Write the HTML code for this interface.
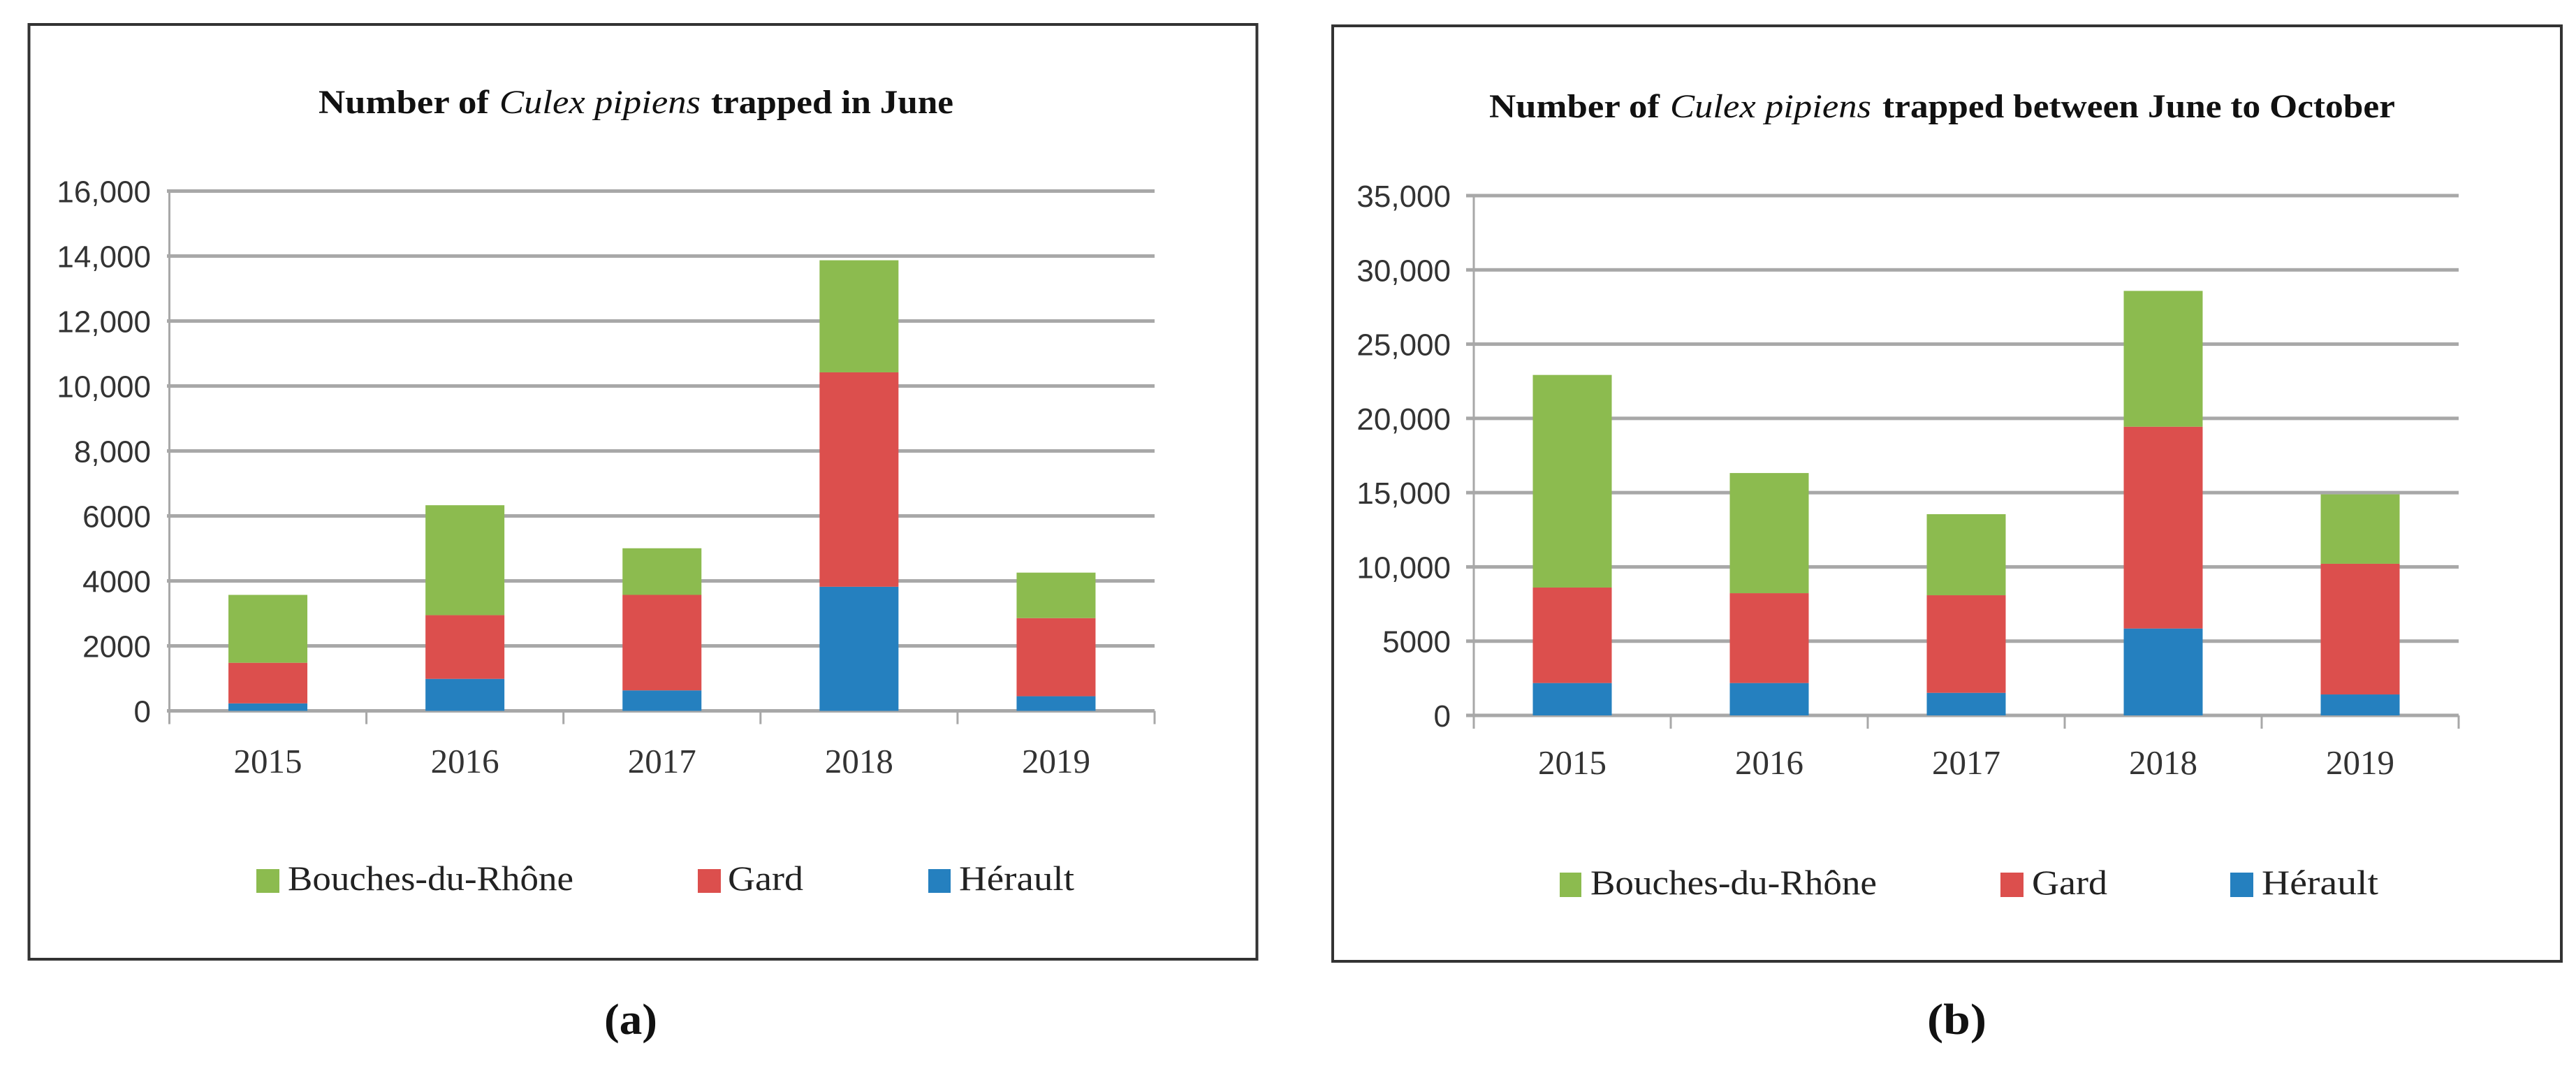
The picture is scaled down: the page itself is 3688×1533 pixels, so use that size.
<!DOCTYPE html>
<html lang="en">
<head>
<meta charset="utf-8">
<title>Number of Culex pipiens trapped</title>
<style>
html,body{margin:0;padding:0;background:#fff;}
svg{display:block;}
.title{font-family:"Liberation Serif",serif;font-size:48px;font-weight:bold;fill:#111;}
.legend{font-family:"Liberation Serif",serif;font-size:50px;fill:#222;}
.ylab{font-family:"Liberation Sans",sans-serif;font-size:44px;fill:#333;text-anchor:end;}
.xlab{font-family:"Liberation Serif",serif;font-size:49px;fill:#333;text-anchor:middle;}
.cap{font-family:"Liberation Serif",serif;font-size:62px;font-weight:bold;fill:#111;}
</style>
</head>
<body>
<svg id="fig" xmlns="http://www.w3.org/2000/svg" width="3688" height="1533" viewBox="0 0 3688 1533">
  <rect x="0" y="0" width="3688" height="1533" fill="#fff"/>

  <g id="panel-a">
    <rect x="41.5" y="35" width="1758" height="1338" fill="#fff" stroke="#333" stroke-width="4"/>
    <g>
      <text class="title" x="456" y="162" textLength="244" lengthAdjust="spacingAndGlyphs">Number of</text>
      <text class="title" x="715" y="162" textLength="288" lengthAdjust="spacingAndGlyphs" font-style="italic" style="font-weight:normal">Culex pipiens</text>
      <text class="title" x="1018" y="162" textLength="347" lengthAdjust="spacingAndGlyphs">trapped in June</text>
    </g>
    <g id="plot-a"></g>
    <g>
      <rect x="367" y="1244" width="33" height="34" fill="#8cbb4f"/>
      <text class="legend" x="412" y="1274" textLength="409" lengthAdjust="spacingAndGlyphs">Bouches-du-Rhône</text>
      <rect x="999" y="1244" width="33" height="34" fill="#dc4f4d"/>
      <text class="legend" x="1042" y="1274" textLength="108" lengthAdjust="spacingAndGlyphs">Gard</text>
      <rect x="1329" y="1244" width="32" height="34" fill="#2580bf"/>
      <text class="legend" x="1373" y="1274" textLength="165" lengthAdjust="spacingAndGlyphs">Hérault</text>
    </g>
    <text class="cap" x="865" y="1480" textLength="76" lengthAdjust="spacingAndGlyphs">(a)</text>
  </g>

  <g id="panel-b">
    <rect x="1908" y="37" width="1759" height="1339" fill="#fff" stroke="#333" stroke-width="4"/>
    <g>
      <text class="title" x="2132" y="168" textLength="244" lengthAdjust="spacingAndGlyphs">Number of</text>
      <text class="title" x="2391" y="168" textLength="288" lengthAdjust="spacingAndGlyphs" font-style="italic" style="font-weight:normal">Culex pipiens</text>
      <text class="title" x="2695" y="168" textLength="734" lengthAdjust="spacingAndGlyphs">trapped between June to October</text>
    </g>
    <g id="plot-b"></g>
    <g>
      <rect x="2233" y="1249" width="31" height="35" fill="#8cbb4f"/>
      <text class="legend" x="2277" y="1280" textLength="410" lengthAdjust="spacingAndGlyphs">Bouches-du-Rhône</text>
      <rect x="2864" y="1249" width="33" height="35" fill="#dc4f4d"/>
      <text class="legend" x="2909" y="1280" textLength="108" lengthAdjust="spacingAndGlyphs">Gard</text>
      <rect x="3193" y="1249" width="33" height="35" fill="#2580bf"/>
      <text class="legend" x="3238" y="1280" textLength="167" lengthAdjust="spacingAndGlyphs">Hérault</text>
    </g>
    <text class="cap" x="2759" y="1480" textLength="85" lengthAdjust="spacingAndGlyphs">(b)</text>
  </g>
</svg>
<script>
// Shared categories
const years = ['2015', '2016', '2017', '2018', '2019'];

// Panel (a): trapped in June
const heraultJune = [230, 985, 630, 3820, 450];
const gardJune = [1250, 1960, 2940, 6600, 2405];
const bouchesJune = [2090, 3385, 1435, 3450, 1400];
const tickValuesJune = [0, 2000, 4000, 6000, 8000, 10000, 12000, 14000, 16000];
const tickLabelsJune = ['0', '2000', '4000', '6000', '8,000', '10,000', '12,000', '14,000', '16,000'];

// Panel (b): trapped between June and October
const heraultSeason = [2180, 2180, 1520, 5850, 1410];
const gardSeason = [6430, 6050, 6570, 13590, 8800];
const bouchesSeason = [14315, 8090, 5460, 9145, 4675];
const tickValuesSeason = [0, 5000, 10000, 15000, 20000, 25000, 30000, 35000];
const tickLabelsSeason = ['0', '5000', '10,000', '15,000', '20,000', '25,000', '30,000', '35,000'];

const NS = 'http://www.w3.org/2000/svg';

function svgEl(tag, attrs) {
  const el = document.createElementNS(NS, tag);
  Object.keys(attrs).forEach(function (k) { el.setAttribute(k, attrs[k]); });
  return el;
}

function drawChart(host, opts) {
  const yScale = function (v) { return opts.y0 - (v / opts.yMax) * (opts.y0 - opts.yTop); };
  const band = (opts.x1 - opts.x0) / opts.categories.length;
  const xCenter = function (i) { return opts.x0 + band * (i + 0.5); };

  // Gridlines and y tick labels
  opts.tickValues.forEach(function (v, i) {
    const y = yScale(v);
    const line = svgEl('rect', { x: opts.gridStart, y: y - 2.5, width: opts.x1 - opts.gridStart, height: 5, fill: '#a8a8a8' });
    
    
    host.appendChild(line);

    const label = svgEl('text', { class: 'ylab', x: opts.labelRight, y: y + 16 });
    
    
    label.textContent = opts.tickLabels[i];
    host.appendChild(label);
  });

  // Y axis line
  const yAxis = svgEl('rect', { x: opts.x0 - 1.5, y: opts.yTop, width: 3, height: opts.y0 - opts.yTop + 19, fill: '#a8a8a8' });
  
  
  host.appendChild(yAxis);

  // X axis ticks
  for (let i = 0; i <= opts.categories.length; i++) {
    const tick = svgEl('rect', { x: opts.x0 + band * i - 1.5, y: opts.y0, width: 3, height: 19, fill: '#a8a8a8' });
    
    
    host.appendChild(tick);
  }

  // Stacked bars
  opts.categories.forEach(function (cat, i) {
    let base = 0;
    opts.series.forEach(function (s) {
      const top = base + s.values[i];
      const bar = svgEl('rect', {
        x: xCenter(i) - opts.barWidth / 2,
        y: yScale(top),
        width: opts.barWidth,
        height: yScale(base) - yScale(top),
        fill: s.color
      });
      
      
      host.appendChild(bar);
      base = top;
    });

    const label = svgEl('text', { class: 'xlab', x: xCenter(i), y: opts.xLabelY });
    
    
    label.textContent = cat;
    host.appendChild(label);
  });
}

drawChart(document.getElementById('plot-a'), {
  categories: years,
  tickValues: tickValuesJune,
  tickLabels: tickLabelsJune,
  yMax: 16000,
  series: [
    { key: 'herault', color: '#2580bf', values: heraultJune },
    { key: 'gard', color: '#dc4f4d', values: gardJune },
    { key: 'bouches-du-rhone', color: '#8cbb4f', values: bouchesJune }
  ],
  x0: 242.5, x1: 1653, y0: 1017.5, yTop: 273.5,
  gridStart: 239, labelRight: 216, xLabelY: 1106, barWidth: 113
});

drawChart(document.getElementById('plot-b'), {
  categories: years,
  tickValues: tickValuesSeason,
  tickLabels: tickLabelsSeason,
  yMax: 35000,
  series: [
    { key: 'herault', color: '#2580bf', values: heraultSeason },
    { key: 'gard', color: '#dc4f4d', values: gardSeason },
    { key: 'bouches-du-rhone', color: '#8cbb4f', values: bouchesSeason }
  ],
  x0: 2110, x1: 3520, y0: 1024, yTop: 280,
  gridStart: 2099, labelRight: 2077, xLabelY: 1108, barWidth: 113
});
</script>
</body>
</html>
